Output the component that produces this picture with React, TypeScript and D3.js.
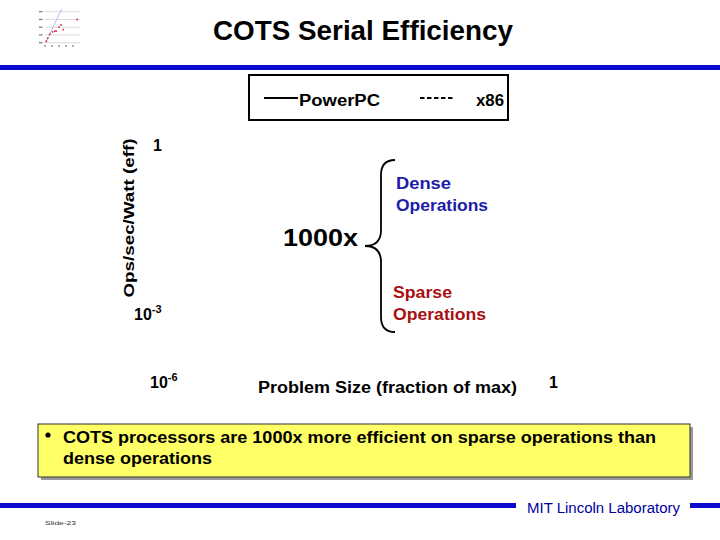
import * as d3 from "d3";

// axis labels (the plotted curves are not shown)
const yTickLabels = [
  { base: "1", exp: "" },
  { base: "10", exp: "-3" },
  { base: "10", exp: "-6" },
];
const xTickLabels = ["1"];
const legendSeries = [
  { name: "PowerPC", dash: "none" },
  { name: "x86", dash: "4.5,2.5" },
];
const groupLabels = [
  { lines: ["Dense", "Operations"], color: "#1c1ca8" },
  { lines: ["Sparse", "Operations"], color: "#a81010" },
];

// slide thumbnail in the corner
const thumbGrid = [0, 1, 2, 3, 4];
const thumbXTicks = [1, 2, 3, 4, 5];
const thumbLine = [
  [0.1, 0],
  [2.4, 4.4],
];
const thumbPoints = [
  [0.2, 0.2], [0.4, 0.6], [0.7, 1.1], [1.1, 1.4], [1.4, 1.5],
  [1.6, 1.5], [2.0, 2.0], [2.3, 2.3], [2.6, 1.7], [4.6, 3.0],
];

const FONT = "'Liberation Sans', Arial, sans-serif";
const NARROW = "'Liberation Sans Narrow', 'Liberation Sans', Arial, sans-serif";

export default function App() {
  const W = 720;
  const H = 540;

  // positions of the y tick labels (irregular on the slide)
  const yTickPos = [
    { x: 153, y: 151 },
    { x: 134, y: 320 },
    { x: 150, y: 388 },
  ];

  const tx = d3.scaleLinear().domain([0, 5]).range([45, 80]);
  const ty = d3.scaleLinear().domain([0, 4]).range([42.7, 11.7]);
  const thumbPath = d3.line<number[]>().x((d) => tx(d[0])).y((d) => ty(d[1]));

  // curly brace
  const bx = 381;
  const top = 160;
  const bot = 332;
  const tipX = 365;
  const tipY = 246;
  const brace = [
    `M${bx + 14},${top}`,
    `Q${bx},${top} ${bx},${top + 15}`,
    `L${bx},${tipY - 16}`,
    `Q${bx},${tipY} ${tipX},${tipY}`,
    `Q${bx},${tipY} ${bx},${tipY + 16}`,
    `L${bx},${bot - 15}`,
    `Q${bx},${bot} ${bx + 14},${bot}`,
  ].join(" ");

  const groupPos = [
    { x: 396, y: 189, w: [55, 92] },
    { x: 393, y: 298, w: [59, 93] },
  ];

  return (
    <svg
      width={W}
      height={H}
      style={{ position: "absolute", left: 0, top: 0, background: "#fff" }}
      fontFamily={FONT}
    >
      {/* thumbnail */}
      <g>
        {thumbGrid.map((g) => (
          <line key={g} x1={tx(0)} x2={tx(5)} y1={ty(g)} y2={ty(g)} stroke="#c8c8c8" strokeWidth={0.6} />
        ))}
        {thumbGrid.map((g) => (
          <rect key={"t" + g} x={39} y={ty(g) - 0.6} width={3.5} height={1.2} fill="#777" />
        ))}
        {thumbXTicks.map((t) => (
          <rect key={"x" + t} x={tx(t) - 0.6 - 7} y={45} width={1.2} height={2} fill="#777" />
        ))}
        <path d={thumbPath(thumbLine) ?? ""} stroke="#7070d0" strokeWidth={0.8} strokeDasharray="1.5,1" fill="none" />
        {thumbPoints.map((p, i) => (
          <circle key={i} cx={tx(p[0])} cy={ty(p[1])} r={0.9} fill="#d02040" />
        ))}
      </g>

      {/* title */}
      <text x={363} y={40} textAnchor="middle" fontSize={27} fontWeight="bold" textLength={300} lengthAdjust="spacingAndGlyphs">
        COTS Serial Efficiency
      </text>
      <rect x={0} y={65} width={W} height={5} fill="#0a0acc" />

      {/* legend */}
      <rect x={249} y={75} width={259} height={45} fill="none" stroke="#000" strokeWidth={2} />
      <line x1={264} x2={298} y1={98} y2={98} stroke="#000" strokeWidth={2} strokeDasharray={legendSeries[0].dash} />
      <text x={299} y={106} fontSize={16} fontWeight="bold" textLength={81} lengthAdjust="spacingAndGlyphs">
        {legendSeries[0].name}
      </text>
      <line x1={420} x2={455} y1={98} y2={98} stroke="#000" strokeWidth={2} strokeDasharray={legendSeries[1].dash} />
      <text x={476} y={106} fontSize={16} fontWeight="bold" textLength={28} lengthAdjust="spacingAndGlyphs">
        {legendSeries[1].name}
      </text>

      {/* y axis title */}
      <text
        transform="translate(134,218) rotate(-90)"
        textAnchor="middle"
        fontSize={15}
        fontWeight="bold"
        textLength={159}
        lengthAdjust="spacingAndGlyphs"
      >
        Ops/sec/Watt (eff)
      </text>

      {/* y tick labels */}
      {yTickLabels.map((t, i) => (
        <text key={i} x={yTickPos[i].x} y={yTickPos[i].y} fontSize={16} fontWeight="bold">
          {t.base}
          {t.exp && (
            <tspan fontSize={11} dy={-7}>
              {t.exp}
            </tspan>
          )}
        </text>
      ))}

      {/* x axis */}
      <text x={258} y={393} fontSize={16} fontWeight="bold" textLength={259} lengthAdjust="spacingAndGlyphs">
        Problem Size (fraction of max)
      </text>
      <text x={549} y={388} fontSize={16} fontWeight="bold">
        {xTickLabels[0]}
      </text>

      {/* brace and labels */}
      <text x={283} y={246} fontSize={24} fontWeight="bold" textLength={75} lengthAdjust="spacingAndGlyphs">
        1000x
      </text>
      <path d={brace} fill="none" stroke="#000" strokeWidth={1.8} />
      {groupLabels.map((g, gi) =>
        g.lines.map((ln, li) => (
          <text
            key={gi + "-" + li}
            x={groupPos[gi].x}
            y={groupPos[gi].y + li * 22}
            fontSize={16}
            fontWeight="bold"
            fill={g.color}
            textLength={groupPos[gi].w[li]}
            lengthAdjust="spacingAndGlyphs"
          >
            {ln}
          </text>
        ))
      )}

      {/* summary box */}
      <rect x={41} y={427} width={652} height={53} fill="#9a9a9a" />
      <rect x={38} y={424} width={652} height={53} fill="#ffff66" stroke="#333" strokeWidth={1} />
      <circle cx={48} cy={435} r={2.6} fill="#000" />
      <text x={63} y={443} fontSize={17} fontWeight="bold" textLength={593} lengthAdjust="spacingAndGlyphs">
        COTS processors are 1000x more efficient on sparse operations than
      </text>
      <text x={63} y={464} fontSize={17} fontWeight="bold" textLength={149} lengthAdjust="spacingAndGlyphs">
        dense operations
      </text>

      {/* footer */}
      <rect x={0} y={503} width={516} height={5} fill="#0a0acc" />
      <rect x={690} y={503} width={30} height={5} fill="#0a0acc" />
      <text x={527} y={513} fontFamily={NARROW} fontSize={14} fill="#0000a0" textLength={153} lengthAdjust="spacingAndGlyphs">
        MIT Lincoln Laboratory
      </text>
      <text x={45} y={525} fontSize={6} fill="#333" textLength={31} lengthAdjust="spacingAndGlyphs">
        Slide-23
      </text>
    </svg>
  );
}
